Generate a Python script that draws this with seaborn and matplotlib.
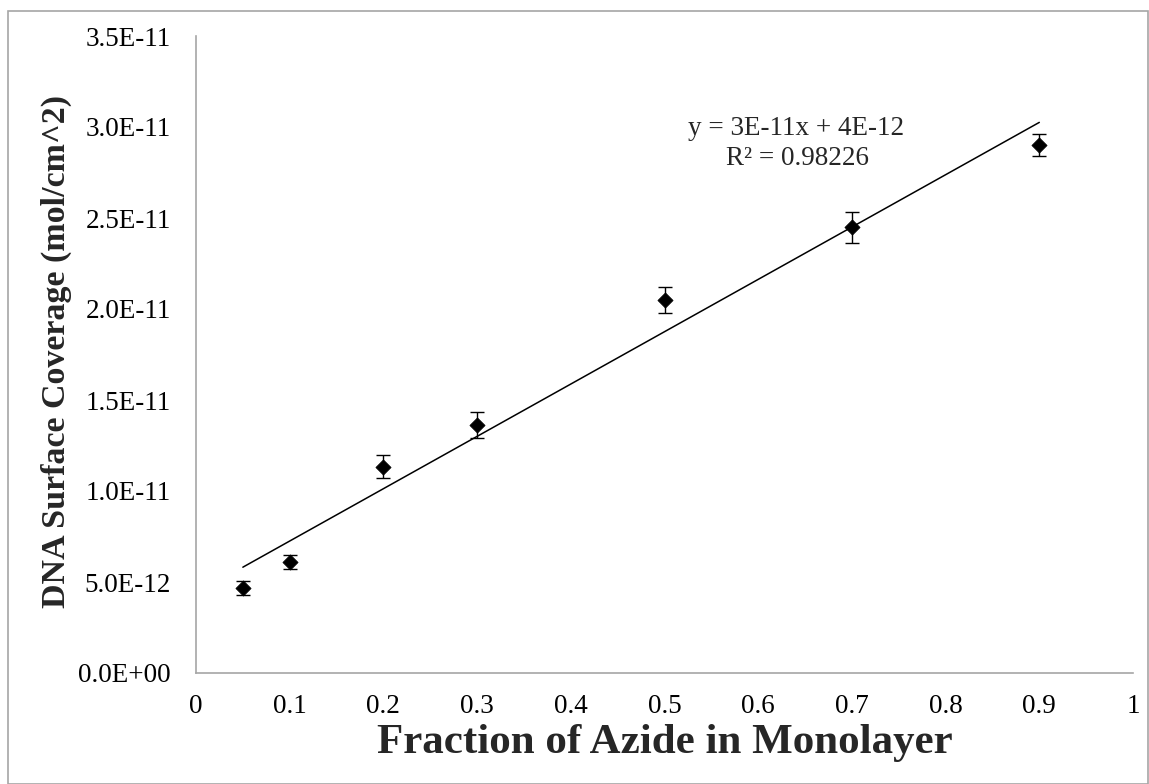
import numpy as np
import pandas as pd
import matplotlib
matplotlib.use("Agg")
import matplotlib.pyplot as plt
from matplotlib.ticker import FuncFormatter, FixedLocator
from matplotlib.patches import Rectangle
import seaborn as sns

# ---- data ----
fraction = [0.05, 0.1, 0.2, 0.3, 0.5, 0.7, 0.9]
coverage = [4.65e-12, 6.08e-12, 11.34e-12, 13.63e-12, 20.5e-12, 24.5e-12, 29.0e-12]
coverage_err = [0.39e-12, 0.38e-12, 0.62e-12, 0.73e-12, 0.71e-12, 0.85e-12, 0.6e-12]
x_ticks = [0, 0.1, 0.2, 0.3, 0.4, 0.5, 0.6, 0.7, 0.8, 0.9, 1.0]
y_ticks = [0, 5e-12, 1e-11, 1.5e-11, 2e-11, 2.5e-11, 3e-11, 3.5e-11]
eq_line1 = "y = 3E-11x + 4E-12"
eq_line2 = "R² = 0.98226"
x_label = "Fraction of Azide in Monolayer"
y_label = "DNA Surface Coverage (mol/cm^2)"

df = pd.DataFrame({"fraction": fraction, "coverage": coverage, "err": coverage_err})

sns.set_style("white")
plt.rcParams["font.family"] = ["Liberation Serif", "DejaVu Serif"]

W, H = 1149, 784
fig = plt.figure(figsize=(W / 100, H / 100), dpi=100)
ax = fig.add_axes([196 / W, 1 - 673 / H, (1133 - 196) / W, (673 - 36) / H])

# outer frame
fig.patches.append(Rectangle((8 / W, 0.5 / H), (W - 9.5) / W, (H - 11) / H,
                             transform=fig.transFigure, fill=False,
                             edgecolor="#a6a6a6", linewidth=1.2))

# trendline (linear fit over data range)
sns.regplot(data=df, x="fraction", y="coverage", scatter=False, ci=None,
            truncate=True, color="black", line_kws={"linewidth": 1.1}, ax=ax)

# error bars
ax.errorbar(df["fraction"], df["coverage"], yerr=df["err"], fmt="none",
            ecolor="black", elinewidth=1.0, capsize=5, capthick=1.0, zorder=3)

# markers
sns.scatterplot(data=df, x="fraction", y="coverage", marker="D", s=60,
                color="black", edgecolor="black", linewidth=0.5, ax=ax, zorder=4)

ax.set_xlim(0, 1)
ax.set_ylim(0, 3.5e-11)
ax.xaxis.set_major_locator(FixedLocator(x_ticks))
ax.yaxis.set_major_locator(FixedLocator(y_ticks))
ax.xaxis.set_major_formatter(FuncFormatter(lambda v, p: f"{v:g}"))
ax.yaxis.set_major_formatter(FuncFormatter(lambda v, p: f"{v:.1E}"))

for s in ["top", "right"]:
    ax.spines[s].set_visible(False)
for s in ["left", "bottom"]:
    ax.spines[s].set_color("#a6a6a6")
    ax.spines[s].set_linewidth(1.2)

ax.tick_params(axis="both", direction="out", length=6, width=1.2,
               color="#a6a6a6", labelsize=19.5, labelcolor="black")
ax.tick_params(axis="y", pad=12)
ax.tick_params(axis="x", pad=9)

ax.set_xlabel(x_label, fontsize=31, fontweight="bold")
ax.set_ylabel(y_label, fontsize=24.5, fontweight="bold")
ax.xaxis.label.set_va("center")
ax.yaxis.label.set_va("center")
ax.xaxis.set_label_coords(0.5, (673 - 743) / (673 - 36))
ax.yaxis.set_label_coords((56 - 196) / (1133 - 196), (673 - 352) / (673 - 36))

ax.text(0.640, 2.99e-11, eq_line1, ha="center", va="center", fontsize=19.5)
ax.text(0.642, 2.825e-11, eq_line2, ha="center", va="center", fontsize=19.5)

fig.savefig("out.png", dpi=100, facecolor="white")
